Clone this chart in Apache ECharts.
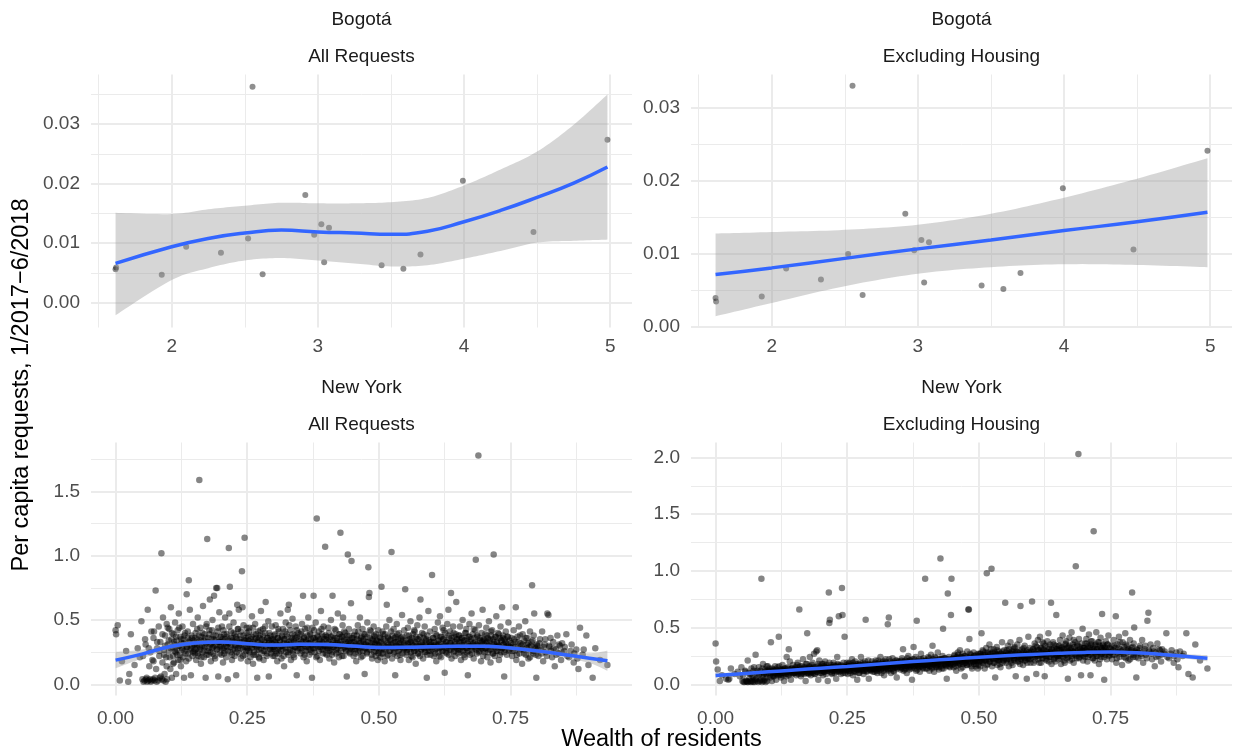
<!DOCTYPE html>
<html><head><meta charset="utf-8">
<script src="https://cdn.jsdelivr.net/npm/echarts@6/dist/echarts.min.js"></script>
<style>html,body{margin:0;padding:0;background:#fff}#c{width:1233px;height:754px}</style>
</head><body><div id="c"></div>
<script>
// ---------- Bogotá (localities) ----------
const bogWealth = [1.616,1.620,1.932,2.099,2.337,2.523,2.553,2.622,2.914,2.975,3.024,3.043,3.076,3.436,3.585,3.702,3.992,4.475,4.981];
const bogAll    = [0.0056,0.0059,0.0047,0.0094,0.0084,0.0108,0.0363,0.0048,0.0181,0.0114,0.0132,0.0068,0.0126,0.0063,0.0057,0.0081,0.0205,0.0119,0.0274];
const bogExcl   = [0.0040,0.0035,0.0042,0.0080,0.0065,0.0100,0.0330,0.0044,0.0155,0.0105,0.0119,0.0061,0.0116,0.0057,0.0052,0.0074,0.0190,0.0106,0.0241];

// loess fit + 95% band (Bogotá, all requests)
const bogAllSmX  = [1.616,2,2.25,2.5,2.75,3,3.25,3.5,3.75,4,4.25,4.5,4.75,4.981];
const bogAllFit  = [0.0066,0.0094,0.0108,0.0117,0.0122,0.0119,0.0117,0.0115,0.0120,0.0136,0.0155,0.0177,0.0201,0.0228];
const bogAllLo   = [-0.0021,0.0038,0.0058,0.0071,0.0075,0.0071,0.0066,0.0061,0.0063,0.0074,0.0087,0.0101,0.0104,0.0106];
const bogAllHi   = [0.0151,0.0149,0.0157,0.0163,0.0168,0.0167,0.0167,0.0169,0.0176,0.0197,0.0224,0.0254,0.0299,0.0350];
// linear fit + band (Bogotá, excluding housing)
const bogExclSmX = [1.616,2,2.5,3,3.5,4,4.5,4.981];
const bogExclFit = [0.0072,0.0081,0.0094,0.0107,0.0119,0.0132,0.0144,0.0157];
const bogExclLo  = [0.0015,0.0033,0.0056,0.0073,0.0082,0.0086,0.0085,0.0082];
const bogExclHi  = [0.0128,0.0130,0.0133,0.0140,0.0155,0.0177,0.0203,0.0231];

// ---------- New York (census tracts): [wealth, all requests, excluding housing] ----------
const nyTracts = [
[.000,.42,.36],[.001,.39,.20],[.004,.46,.13],[.008,.03,.03],[.012,.18,.08],[.020,.26,.05],[.024,.02,.04],[.026,.08,.05],[.029,.39,.14],[.036,.15,.09],[.042,.28,.11],[.046,.21,.07],[.049,.49,.15],
[.051,.04,.03],[.053,.02,.02],[.055,.03,.02],[.057,.31,.11],[.058,.04,.03],[.060,.02,.02],[.061,.58,.21],[.062,.03,.02],[.064,.14,.05],[.065,.04,.03],[.066,.25,.09],[.067,.02,.02],[.069,.03,.03],[.070,.19,.07],[.071,.04,.02],[.072,.36,.12],[.073,.41,.15],[.074,.03,.02],[.076,.73,.26],[.077,.12,.05],[.078,.02,.03],[.079,.28,.10],[.081,.03,.02],[.082,.45,.15],[.083,.22,.08],[.084,.05,.03],[.085,.33,.12],[.087,1.02,.93],[.088,.04,.02],[.089,.17,.07],[.090,.52,.18],[.091,.03,.03],[.092,.27,.10],[.093,.08,.04],[.094,.38,.13],[.095,.02,.02],[.096,.21,.09],[.097,.47,.16],[.098,.04,.03],[.099,.31,.12],
[.101,.26,.10],[.102,.43,.14],[.104,.12,.06],[.105,.60,.37],[.106,.35,.12],[.107,.05,.03],[.108,.29,.11],[.109,.22,.08],[.110,.39,.13],[.111,.17,.07],[.112,.31,.10],[.113,.48,.16],[.114,.25,.09],[.115,.08,.04],[.116,.34,.12],[.117,.27,.10],[.118,.42,.15],[.119,.19,.08],[.120,.55,.42],[.121,.30,.11],[.122,.23,.09],[.123,.37,.13],[.124,.14,.06],[.125,.32,.12],[.126,.28,.10],[.127,.45,.17],[.128,.21,.08],[.129,.35,.13],[.130,.05,.03],[.131,.26,.10],[.132,.40,.14],[.133,.31,.12],[.134,.18,.07],[.135,.70,.24],[.136,.29,.11],[.137,.36,.14],[.138,.24,.09],[.139,.81,.31],[.140,.33,.12],[.141,.58,.20],[.142,.27,.10],[.143,.07,.04],[.144,.38,.14],[.145,.30,.11],[.146,.22,.09],[.147,.47,.17],[.148,.34,.13],[.149,.26,.10],
[.150,.31,.12],[.151,.24,.10],[.152,.40,.15],[.153,.19,.08],[.154,.35,.13],[.155,.28,.11],[.156,.52,.19],[.157,.22,.09],[.158,.33,.12],[.159,1.59,.66],[.160,.27,.11],[.161,.44,.16],[.162,.16,.07],[.163,.37,.14],[.164,.30,.12],[.165,.25,.10],[.166,.61,.22],[.167,.34,.13],[.168,.21,.09],[.169,.39,.15],[.170,.29,.11],[.171,.05,.03],[.172,.32,.12],[.173,.47,.18],[.174,1.13,.45],[.175,.26,.10],[.176,.36,.14],[.177,.23,.09],[.178,.42,.16],[.179,.66,.24],[.180,.31,.12],[.181,.18,.08],[.182,.35,.14],[.183,.28,.11],[.184,.50,.19],[.185,.24,.10],[.186,.38,.15],[.187,.69,.27],[.188,.30,.12],[.189,.20,.09],[.190,.34,.13],[.191,.75,.29],[.192,.27,.11],[.193,.75,.30],[.194,.41,.16],[.195,.06,.04],[.196,.33,.13],[.197,.56,.21],[.198,.29,.12],[.199,.37,.15],
[.200,.30,.13],[.201,.23,.10],[.202,.45,.18],[.203,.35,.14],[.204,.17,.08],[.205,.28,.12],[.206,.39,.16],[.207,.26,.11],[.208,.52,.20],[.209,.32,.14],[.210,.21,.09],[.211,.37,.15],[.212,.29,.12],[.213,.04,.03],[.214,.34,.14],[.215,1.06,.81],[.216,.55,.54],[.217,.76,.57],[.218,.25,.11],[.219,.41,.17],[.220,.31,.13],[.221,.19,.09],[.222,.36,.15],[.223,.27,.12],[.224,.48,.19],[.225,.33,.14],[.226,.22,.10],[.227,.39,.16],[.228,.30,.13],[.229,.07,.05],[.230,.35,.15],[.231,.62,.24],[.232,.28,.12],[.233,.43,.17],[.234,.58,.60],[.235,.24,.11],[.236,.33,.14],[.237,.38,.16],[.238,.20,.09],[.239,.31,.13],[.240,.88,.85],[.241,.60,.61],[.242,.27,.12],[.243,.46,.19],[.244,.34,.14],[.245,1.14,.42],[.246,.23,.10],[.247,.36,.15],[.248,.29,.13],[.249,.40,.17],
[.250,.32,.15],[.251,.18,.09],[.252,.37,.16],[.253,.26,.12],[.254,.44,.19],[.255,.30,.14],[.256,.21,.10],[.257,.35,.16],[.258,.28,.13],[.259,.53,.22],[.260,.33,.15],[.261,.16,.08],[.262,.39,.17],[.263,.25,.12],[.264,.31,.14],[.265,.47,.20],[.266,.23,.11],[.267,.36,.16],[.268,.29,.13],[.269,.05,.04],[.270,.34,.15],[.271,.41,.18],[.272,.27,.13],[.273,.20,.10],[.274,.38,.17],[.275,.31,.14],[.276,.57,.24],[.277,.24,.12],[.278,.35,.16],[.279,.30,.14],[.280,.43,.19],[.281,.19,.09],[.282,.33,.15],[.283,.26,.12],[.284,.40,.18],[.285,.64,.57],[.286,.29,.14],[.287,.22,.11],[.288,.36,.16],[.289,.31,.15],[.290,.49,.21],[.291,.06,.05],[.292,.34,.16],[.293,.28,.13],[.294,.38,.17],[.295,.24,.12],[.296,.32,.15],[.297,.45,.20],[.298,.27,.13],[.299,.35,.16],
[.300,.29,.14],[.301,.38,.18],[.302,.22,.11],[.303,.33,.16],[.304,.46,.21],[.305,.26,.13],[.306,.31,.15],[.307,.18,.10],[.308,.36,.17],[.309,.28,.14],[.310,.41,.19],[.311,.24,.12],[.312,.34,.16],[.313,.55,.24],[.314,.30,.15],[.315,.20,.10],[.316,.37,.18],[.317,.27,.14],[.318,.43,.20],[.319,.32,.16],[.320,.14,.08],[.321,.35,.17],[.322,.29,.15],[.323,.48,.22],[.324,.25,.13],[.325,.39,.19],[.326,.31,.16],[.327,.58,.53],[.328,.23,.12],[.329,.62,.59],[.330,.33,.17],[.331,.27,.14],[.332,.42,.20],[.333,.19,.10],[.334,.36,.18],[.335,.30,.16],[.336,.51,.23],[.337,.26,.14],[.338,.34,.17],[.339,.21,.11],[.340,.38,.19],[.341,.29,.15],[.342,.45,.21],[.343,.32,.17],[.344,.07,.06],[.345,.37,.19],[.346,.28,.15],[.347,.40,.20],
[.350,.31,.17],[.351,.24,.13],[.352,.39,.20],[.353,.28,.15],[.354,.47,.23],[.355,.33,.18],[.356,.69,.31],[.357,.21,.12],[.358,.36,.19],[.359,.30,.16],[.360,.43,.21],[.361,.26,.14],[.362,.34,.18],[.363,.18,.10],[.364,.38,.20],[.365,.29,.16],[.366,.52,.25],[.367,.32,.17],[.368,.23,.13],[.369,.40,.21],[.370,.27,.15],[.371,.35,.19],[.372,.31,.17],[.373,.05,.04],[.374,.44,.22],[.375,.28,.16],[.376,.69,.33],[.377,.36,.19],[.378,.25,.14],[.379,.33,.18],[.380,.48,.24],[.381,.30,.17],[.382,1.29,.56],[.383,.22,.13],[.384,.37,.20],[.385,.29,.16],[.386,.41,.22],[.387,.34,.19],[.388,.19,.11],[.389,.31,.18],[.390,.57,.27],[.391,.27,.16],[.392,.39,.21],[.393,.32,.18],[.394,.24,.14],[.395,.45,.23],[.396,.35,.19],[.397,.29,.17],[.398,1.07,.93],[.399,.38,.21],
[.400,.30,.18],[.401,.23,.14],[.402,.37,.21],[.403,.28,.17],[.404,.44,.24],[.405,.33,.19],[.406,.20,.12],[.407,.35,.20],[.408,.27,.16],[.409,.50,.26],[.410,.31,.19],[.411,.25,.15],[.412,.69,.34],[.413,.38,.22],[.414,.29,.18],[.415,.17,.11],[.416,.36,.21],[.417,.32,.19],[.418,.42,.23],[.419,.24,.15],[.420,.34,.20],[.421,.28,.17],[.422,.55,.28],[.423,.30,.18],[.424,.21,.13],[.425,.39,.22],[.426,.33,.20],[.427,1.18,1.11],[.428,.26,.16],[.429,.37,.22],[.430,.31,.19],[.431,.46,.25],[.432,.52,.49],[.433,.22,.14],[.434,.35,.21],[.435,.29,.18],[.436,.40,.23],[.437,.27,.17],[.438,.33,.20],[.439,.06,.05],[.440,.38,.22],[.441,1.01,.80],[.442,.30,.19],[.443,.43,.24],[.444,.25,.16],[.445,.34,.21],[.446,.28,.18],[.447,.63,.61],[.448,.96,.93],[.449,.36,.22],
[.450,.29,.20],[.451,.36,.23],[.452,.22,.15],[.453,.33,.22],[.454,.41,.26],[.455,.27,.19],[.456,.31,.21],[.457,.18,.12],[.458,.38,.24],[.459,.30,.20],[.460,.46,.28],[.461,.25,.17],[.462,.34,.23],[.463,.28,.19],[.464,.52,.30],[.465,.32,.22],[.466,.21,.14],[.467,.37,.24],[.468,.29,.20],[.469,.43,.27],[.470,.26,.18],[.471,.35,.23],[.472,.31,.21],[.473,.08,.07],[.474,.39,.25],[.475,.28,.19],[.476,.33,.22],[.477,.24,.17],[.478,.48,.29],[.479,.30,.21],[.480,.91,.66],[.481,.68,.66],[.482,.71,.40],[.483,.36,.24],[.484,.27,.19],[.485,.41,.26],[.486,.32,.22],[.487,.20,.14],[.488,.34,.23],[.489,.29,.20],[.490,.45,.28],[.491,.25,.18],[.492,.37,.25],[.493,.31,.21],[.494,.22,.16],[.495,.39,.26],[.496,.28,.20],[.497,.34,.23],[.498,.19,.14],[.499,.42,.27],
[.500,.30,.23],[.501,.26,.20],[.502,.37,.27],[.503,.21,.16],[.504,.33,.25],[.505,.76,.45],[.506,.28,.21],[.507,.41,.30],[.508,.24,.19],[.509,.35,.26],[.510,.30,.23],[.511,.18,.14],[.512,.39,.28],[.513,.27,.21],[.514,.45,.32],[.515,.62,.98],[.516,.32,.24],[.517,.23,.18],[.518,.36,.27],[.519,.29,.22],[.520,.50,.35],[.521,.26,.20],[.522,.34,.26],[.523,.31,.24],[.524,1.03,1.02],[.525,.20,.16],[.526,.38,.28],[.527,.28,.22],[.528,.43,.31],[.529,.25,.19],[.530,.33,.25],[.531,.07,.06],[.532,.37,.27],[.533,.30,.23],[.534,.47,.33],[.535,.22,.17],[.536,.35,.26],[.537,.29,.22],[.538,.40,.29],[.539,.27,.21],[.540,.32,.24],[.541,.19,.15],[.542,.36,.27],[.543,.31,.24],[.544,.54,.37],[.545,.24,.19],[.546,.34,.26],[.547,.28,.22],[.548,.42,.30],[.550,.74,.72],
[.551,.30,.25],[.552,.23,.19],[.553,.38,.30],[.554,.27,.22],[.555,.44,.34],[.556,.32,.26],[.557,.19,.16],[.558,.35,.28],[.559,.29,.24],[.560,.49,.37],[.561,.25,.21],[.562,.34,.27],[.563,.31,.25],[.564,.21,.17],[.565,.39,.31],[.566,.28,.23],[.567,.42,.32],[.568,.26,.21],[.569,.33,.27],[.570,.16,.07],[.571,.37,.29],[.572,.30,.25],[.573,.46,.35],[.574,.24,.20],[.575,.35,.28],[.576,.29,.24],[.577,.52,.39],[.578,.22,.18],[.579,.66,.69],[.580,.32,.26],[.581,.27,.22],[.582,.40,.31],[.583,.31,.25],[.584,.20,.17],[.585,.36,.29],[.586,.28,.23],[.587,.45,.34],[.588,.25,.21],[.589,.34,.27],[.590,.30,.25],[.591,.05,.05],[.592,.38,.30],[.593,.29,.24],[.594,.57,.42],[.595,.26,.22],[.596,.33,.27],[.597,.41,.32],[.598,.23,.19],[.599,.31,.26],[.601,.85,.73],
[.602,.29,.26],[.603,.36,.31],[.604,.22,.19],[.605,.33,.29],[.606,.43,.36],[.607,.27,.24],[.608,.31,.27],[.609,.18,.09],[.610,.38,.33],[.611,.30,.26],[.612,.48,.39],[.613,.25,.22],[.614,.34,.30],[.615,.28,.25],[.616,.53,.42],[.617,.32,.28],[.618,.21,.19],[.619,.37,.32],[.620,.29,.26],[.621,.44,.37],[.622,.26,.23],[.623,.35,.30],[.624,.31,.27],[.625,.09,.07],[.626,.40,.34],[.627,.28,.25],[.628,.33,.29],[.629,.24,.21],[.630,.47,.38],[.631,.30,.27],[.632,.58,.45],[.633,.36,.31],[.634,.27,.24],[.635,.41,.35],[.636,.32,.28],[.637,.71,.72],[.638,.20,.18],[.639,.34,.30],[.640,.29,.26],[.641,.45,.37],[.642,.25,.22],[.643,.37,.32],[.644,.31,.28],[.645,.22,.20],[.646,.39,.34],[.647,.64,.61],[.648,.28,.25],[.649,.35,.31],
[.650,.30,.27],[.651,.24,.22],[.652,.38,.34],[.653,.27,.25],[.654,.45,.39],[.655,.33,.30],[.656,.19,.18],[.657,.36,.32],[.658,.29,.27],[.659,.50,.43],[.660,.26,.24],[.661,.34,.31],[.662,.31,.28],[.663,.21,.19],[.664,.40,.35],[.665,.28,.26],[.666,.43,.38],[.667,.25,.23],[.668,.35,.32],[.669,.07,.05],[.670,.37,.33],[.671,.30,.28],[.672,.47,.41],[.673,.23,.21],[.674,.33,.30],[.675,.29,.27],[.676,.55,.46],[.677,.27,.25],[.678,.39,.35],[.679,.32,.29],[.680,.20,.19],[.681,.36,.33],[.682,.28,.26],[.683,.42,.37],[.684,.97,1.04],[.685,.31,.29],[.686,.24,.23],[.687,.37,.34],[.688,.30,.28],[.689,1.78,2.03],[.690,.46,.40],[.691,.26,.24],[.692,.34,.31],[.693,.29,.27],[.694,.18,.08],[.695,.40,.36],[.696,.33,.30],[.697,.58,.49],[.698,.27,.25],[.699,.35,.32],
[.700,.31,.29],[.701,.25,.24],[.702,.39,.36],[.703,.28,.27],[.704,.44,.40],[.705,.33,.31],[.706,.21,.20],[.707,.36,.34],[.708,.30,.28],[.709,.49,.44],[.710,.27,.26],[.711,.34,.32],[.712,.17,.08],[.713,.38,.35],[.714,.29,.28],[.715,.42,.38],[.716,.24,.23],[.717,.35,.33],[.718,1.01,1.35],[.719,.31,.29],[.720,.22,.21],[.721,.37,.34],[.722,.28,.27],[.723,.53,.46],[.724,.33,.31],[.725,.26,.25],[.726,.40,.37],[.727,.30,.29],[.728,.19,.18],[.729,.36,.34],[.730,.29,.28],[.731,.45,.41],[.732,.25,.24],[.733,.34,.32],[.734,.60,.62],[.735,.28,.27],[.736,.38,.35],[.737,.31,.30],[.738,.06,.04],[.739,.35,.33],[.740,.27,.26],[.741,.41,.38],[.742,.32,.30],[.743,.23,.22],[.744,.37,.35],[.745,.30,.29],[.746,.48,.43],[.747,.26,.25],[.748,.34,.32],[.749,.29,.28],
[.750,.29,.28],[.752,.36,.34],[.753,.22,.22],[.755,.31,.30],[.756,.42,.39],[.758,.26,.26],[.759,.33,.32],[.760,.60,.60],[.761,.19,.19],[.763,.37,.35],[.764,.28,.28],[.766,.45,.42],[.767,.24,.24],[.769,.32,.31],[.770,.30,.29],[.772,.16,.17],[.773,.39,.37],[.775,.27,.27],[.776,.34,.33],[.778,.49,.45],[.779,.23,.23],[.781,.31,.30],[.782,.36,.34],[.784,.20,.21],[.785,.29,.29],[.787,.41,.39],[.788,.26,.26],[.790,.33,.32],[.791,.77,.81],[.793,.24,.24],[.794,.38,.36],[.795,.55,.50],[.797,.28,.28],[.799,.05,.06],
[.801,.30,.30],[.803,.22,.23],[.806,.35,.34],[.808,.27,.27],[.810,.41,.39],[.812,.18,.19],[.815,.31,.31],[.817,.25,.26],[.820,.55,.56],[.822,.54,.63],[.824,.29,.29],[.826,.36,.35],[.829,.21,.22],[.831,.33,.32],[.834,.14,.16],[.836,.27,.28],[.839,.38,.36],[.841,.24,.25],[.844,.30,.30],[.846,.19,.20],[.848,.32,.31],
[.852,.26,.27],[.856,.39,.45],[.861,.21,.23],[.866,.31,.30],[.870,.17,.19],[.875,.27,.28],[.879,.12,.15],[.882,.44,.29],[.887,.23,.25],[.894,.38,.45],[.898,.15,.09],
[.906,.05,.06],[.911,.28,.35],[.920,.19,.21],[.934,.15,.14]
];
// further tracts in the dense core of the cloud
const nyTractsCore = [
[.052,.22,.08],[.056,.35,.12],[.059,.05,.03],[.063,.28,.10],[.068,.41,.14],[.072,.18,.07],[.075,.05,.04],[.079,.33,.12],[.083,.26,.09],[.086,.06,.04],[.089,.39,.14],[.092,.23,.09],[.094,.30,.11],[.097,.14,.06],[.099,.44,.16],
[.101,.34,.12],[.103,.21,.08],[.105,.28,.10],[.107,.40,.14],[.109,.16,.07],[.111,.33,.12],[.113,.26,.10],[.115,.37,.13],[.117,.23,.09],[.119,.30,.11],[.121,.44,.16],[.123,.19,.08],[.125,.35,.13],[.127,.27,.10],[.129,.32,.12],[.131,.38,.14],[.133,.24,.09],[.135,.29,.11],[.137,.41,.15],[.139,.20,.08],[.141,.34,.13],[.143,.28,.11],[.145,.36,.14],[.147,.25,.10],[.149,.31,.12],
[.151,.36,.14],[.152,.27,.11],[.154,.31,.12],[.155,.43,.17],[.157,.24,.10],[.158,.38,.15],[.160,.29,.12],[.162,.34,.13],[.163,.21,.09],[.165,.40,.16],[.167,.30,.12],[.168,.26,.11],[.170,.36,.14],[.172,.45,.18],[.173,.23,.10],[.175,.33,.13],[.177,.28,.11],[.178,.39,.15],[.180,.25,.10],[.182,.32,.13],[.183,.42,.17],[.185,.29,.12],[.187,.35,.14],[.188,.22,.09],[.190,.38,.15],[.192,.31,.13],[.193,.27,.11],[.195,.44,.18],[.197,.33,.14],[.198,.24,.10],
[.200,.37,.16],[.202,.28,.12],[.203,.33,.14],[.205,.42,.18],[.206,.24,.11],[.208,.35,.15],[.210,.30,.13],[.211,.39,.17],[.213,.26,.12],[.214,.32,.14],[.216,.45,.19],[.218,.29,.13],[.219,.36,.15],[.221,.23,.10],[.222,.34,.15],[.224,.40,.17],[.226,.27,.12],[.227,.31,.14],[.229,.37,.16],[.230,.25,.11],[.232,.43,.18],[.234,.30,.13],[.235,.35,.15],[.237,.28,.12],[.238,.41,.17],[.240,.33,.14],[.242,.22,.10],[.243,.38,.16],[.245,.29,.13],[.246,.34,.15],[.248,.26,.12],[.249,.44,.19],
[.250,.28,.13],[.252,.34,.16],[.253,.41,.18],[.255,.25,.12],[.256,.32,.15],[.258,.37,.17],[.259,.29,.14],[.261,.44,.19],[.262,.23,.11],[.264,.35,.16],[.266,.30,.14],[.267,.39,.18],[.269,.27,.13],[.270,.33,.15],[.272,.21,.10],[.273,.36,.17],[.275,.42,.19],[.276,.28,.13],[.278,.31,.15],[.280,.38,.17],[.281,.26,.12],[.283,.34,.16],[.284,.45,.20],[.286,.30,.14],[.288,.24,.12],[.289,.36,.17],[.291,.32,.15],[.292,.40,.18],[.294,.27,.13],[.296,.35,.16],[.297,.29,.14],[.299,.22,.11],
[.300,.34,.17],[.302,.27,.14],[.303,.39,.19],[.305,.31,.16],[.306,.24,.12],[.308,.36,.18],[.309,.43,.21],[.311,.29,.15],[.312,.33,.17],[.314,.26,.13],[.316,.38,.19],[.317,.30,.15],[.319,.22,.12],[.320,.35,.18],[.322,.41,.20],[.323,.28,.14],[.325,.32,.16],[.327,.37,.18],[.328,.25,.13],[.330,.46,.22],[.331,.31,.16],[.333,.34,.17],[.334,.27,.14],[.336,.39,.19],[.338,.23,.12],[.339,.33,.17],[.341,.29,.15],[.342,.36,.18],[.344,.42,.21],[.345,.26,.14],[.347,.31,.16],[.349,.35,.18],
[.350,.28,.15],[.352,.34,.18],[.353,.41,.21],[.355,.26,.14],[.356,.31,.17],[.358,.37,.20],[.359,.23,.13],[.361,.33,.18],[.362,.29,.16],[.364,.44,.23],[.366,.35,.19],[.367,.27,.15],[.369,.32,.17],[.370,.39,.21],[.372,.25,.14],[.373,.30,.17],[.375,.36,.19],[.377,.42,.22],[.378,.28,.16],[.380,.34,.18],[.381,.21,.12],[.383,.38,.20],[.384,.31,.17],[.386,.26,.15],[.388,.35,.19],[.389,.29,.16],[.391,.43,.22],[.392,.33,.18],[.394,.27,.15],[.395,.37,.20],[.397,.30,.17],[.399,.24,.14],
[.400,.35,.20],[.402,.28,.17],[.403,.32,.19],[.405,.40,.23],[.406,.26,.16],[.408,.30,.18],[.409,.37,.21],[.411,.23,.14],[.413,.34,.20],[.414,.29,.17],[.416,.43,.24],[.417,.31,.19],[.419,.27,.16],[.420,.36,.21],[.422,.32,.19],[.423,.25,.15],[.425,.39,.22],[.427,.30,.18],[.428,.34,.20],[.430,.22,.14],[.431,.37,.22],[.433,.28,.17],[.434,.41,.23],[.436,.31,.19],[.438,.26,.16],[.439,.35,.21],[.441,.29,.18],[.442,.33,.20],[.444,.38,.22],[.445,.24,.15],[.447,.32,.19],[.449,.27,.17],
[.450,.33,.22],[.452,.27,.18],[.453,.38,.25],[.455,.30,.20],[.456,.24,.16],[.458,.35,.23],[.459,.29,.19],[.461,.41,.26],[.463,.32,.21],[.464,.26,.18],[.466,.36,.24],[.467,.30,.20],[.469,.22,.15],[.470,.34,.22],[.472,.39,.25],[.473,.28,.19],[.475,.31,.21],[.477,.25,.17],[.478,.37,.24],[.480,.33,.22],[.481,.27,.18],[.483,.42,.27],[.484,.30,.20],[.486,.23,.16],[.488,.35,.23],[.489,.29,.20],[.491,.38,.25],[.492,.32,.21],[.494,.26,.18],[.495,.34,.23],[.497,.31,.21],[.499,.24,.17],
[.500,.33,.25],[.502,.28,.21],[.503,.36,.27],[.505,.24,.19],[.507,.31,.24],[.508,.39,.29],[.510,.27,.21],[.512,.34,.26],[.513,.29,.22],[.515,.22,.17],[.517,.37,.28],[.518,.31,.24],[.520,.26,.20],[.522,.35,.27],[.523,.41,.31],[.525,.29,.23],[.527,.32,.25],[.528,.24,.19],[.530,.36,.28],[.532,.28,.22],[.533,.33,.26],[.535,.39,.30],[.537,.26,.21],[.538,.31,.24],[.540,.23,.18],[.542,.35,.27],[.543,.29,.23],[.545,.37,.29],[.547,.27,.21],[.548,.32,.25],
[.550,.28,.23],[.552,.34,.28],[.553,.25,.21],[.555,.31,.26],[.557,.38,.31],[.558,.27,.22],[.560,.33,.27],[.562,.22,.19],[.563,.36,.29],[.565,.30,.25],[.567,.26,.22],[.568,.41,.33],[.570,.32,.26],[.572,.28,.23],[.573,.35,.28],[.575,.24,.20],[.577,.30,.25],[.578,.37,.30],[.580,.27,.22],[.582,.33,.27],[.583,.29,.24],[.585,.39,.32],[.587,.25,.21],[.588,.31,.26],[.590,.35,.29],[.592,.23,.19],[.593,.28,.23],[.595,.34,.28],[.597,.30,.25],[.598,.26,.22],
[.600,.33,.29],[.602,.27,.24],[.603,.36,.31],[.605,.30,.26],[.607,.24,.21],[.608,.39,.34],[.610,.28,.25],[.612,.34,.30],[.613,.31,.27],[.615,.22,.19],[.617,.37,.32],[.618,.29,.26],[.620,.26,.23],[.622,.35,.31],[.623,.42,.36],[.625,.30,.27],[.627,.25,.22],[.628,.33,.29],[.630,.28,.25],[.632,.38,.33],[.633,.23,.20],[.635,.32,.28],[.637,.27,.24],[.638,.36,.31],[.640,.30,.27],[.642,.40,.35],[.643,.26,.23],[.645,.33,.29],[.647,.29,.26],[.648,.35,.31],
[.650,.27,.25],[.652,.33,.30],[.653,.38,.34],[.655,.25,.23],[.657,.31,.28],[.658,.36,.33],[.660,.29,.27],[.662,.23,.21],[.663,.34,.31],[.665,.40,.36],[.667,.28,.26],[.668,.32,.29],[.670,.26,.24],[.672,.37,.34],[.673,.30,.28],[.675,.35,.32],[.677,.24,.22],[.678,.31,.29],[.680,.43,.39],[.682,.29,.27],[.683,.33,.30],[.685,.27,.25],[.687,.38,.35],[.688,.32,.30],[.690,.25,.23],[.692,.36,.33],[.693,.30,.28],[.695,.28,.26],[.697,.34,.32],[.698,.22,.21],
[.700,.34,.32],[.702,.28,.27],[.703,.32,.30],[.705,.38,.36],[.707,.25,.24],[.708,.30,.29],[.710,.35,.33],[.712,.27,.26],[.713,.41,.38],[.715,.31,.30],[.717,.24,.23],[.718,.33,.31],[.720,.29,.28],[.722,.37,.35],[.723,.26,.25],[.725,.32,.31],[.727,.30,.29],[.728,.39,.37],[.730,.23,.22],[.732,.34,.32],[.733,.28,.27],[.735,.36,.34],[.737,.31,.30],[.738,.25,.24],[.740,.33,.32],[.742,.29,.28],[.745,.37,.35],[.748,.27,.26],
[.751,.32,.31],[.754,.26,.26],[.757,.35,.34],[.759,.29,.29],[.762,.23,.23],[.765,.33,.32],[.768,.38,.37],[.770,.27,.27],[.773,.31,.30],[.776,.24,.24],[.779,.36,.35],[.781,.28,.28],[.784,.32,.31],[.787,.21,.22],[.789,.30,.30],[.792,.34,.33],[.794,.26,.26],[.796,.29,.29],[.798,.23,.24],[.800,.31,.31],
[.802,.27,.28],[.805,.32,.32],[.809,.24,.25],[.813,.29,.29],[.816,.35,.34],[.819,.22,.23],[.823,.30,.30],[.827,.26,.27],[.832,.28,.29],[.837,.23,.24],[.842,.31,.31],[.847,.25,.26],
[.853,.29,.29],[.858,.22,.24],[.864,.26,.27],[.871,.24,.25],[.877,.20,.22],[.889,.27,.27]
];

// loess fits + bands (New York)
const nyAllSmX  = [0,.05,.1,.15,.2,.25,.3,.35,.4,.45,.5,.55,.6,.65,.7,.75,.8,.85,.9,.934];
const nyAllFit  = [.188,.235,.290,.322,.330,.316,.305,.312,.310,.298,.287,.288,.292,.296,.296,.283,.260,.232,.203,.183];
const nyAllLo   = [.125,.200,.268,.305,.315,.302,.292,.299,.297,.285,.274,.275,.279,.283,.282,.268,.243,.210,.165,.105];
const nyAllHi   = [.252,.270,.312,.339,.345,.330,.318,.325,.323,.311,.300,.301,.305,.309,.310,.298,.277,.254,.241,.262];
const nyExclSmX = [0,.05,.1,.15,.2,.25,.3,.35,.4,.45,.5,.55,.6,.65,.7,.75,.8,.85,.9,.934];
const nyExclFit = [.078,.094,.110,.126,.142,.158,.175,.192,.208,.224,.239,.252,.263,.273,.281,.284,.278,.262,.243,.230];
const nyExclLo  = [.058,.080,.099,.117,.134,.150,.167,.184,.200,.216,.231,.244,.255,.265,.272,.274,.266,.247,.222,.203];
const nyExclHi  = [.098,.108,.121,.135,.150,.166,.183,.200,.216,.232,.247,.260,.271,.281,.290,.294,.290,.277,.264,.257];

// ---------- build chart ----------
const FONT = "'Liberation Sans', Arial, Helvetica, sans-serif";
const grids = [
  {left: 91,  top: 74.5, width: 541, height: 253},
  {left: 691, top: 74.5, width: 541, height: 253},
  {left: 91,  top: 442.5, width: 541, height: 253},
  {left: 691, top: 442.5, width: 541, height: 253}
].map(g => Object.assign({containLabel: false, outerBoundsMode: 'none', show: false}, g));

function axis(i, min, max, step, fmt, margin) {
  return {
    type: 'value', gridIndex: i, min: min, max: max,
    minInterval: step, maxInterval: step,
    axisLine: {show: false}, axisTick: {show: false},
    axisLabel: {show: true, showMinLabel: false, showMaxLabel: false, margin: margin,
      color: '#4D4D4D', fontSize: 19, fontFamily: FONT, formatter: fmt},
    splitLine: {show: true, showMinLine: false, showMaxLine: false, lineStyle: {color: '#EBEBEB', width: 2}},
    minorTick: {show: false, splitNumber: 2},
    minorSplitLine: {show: true, lineStyle: {color: '#EBEBEB', width: 1}},
    silent: true
  };
}
const f2 = v => v.toFixed(2), f1 = v => v.toFixed(1), f0 = v => String(Math.round(v));
const xAxes = [
  axis(0, 1.448, 5.149, 1, f0, 10),
  axis(1, 1.448, 5.149, 1, f0, 10),
  axis(2, -0.0467, 0.9807, 0.25, f2, 14),
  axis(3, -0.0467, 0.9807, 0.25, f2, 14)
];
const yAxes = [
  axis(0, -0.00417, 0.03835, 0.01, f2, 11),
  axis(1, -0.00005, 0.03454, 0.01, f2, 11),
  axis(2, -0.0872, 1.8817, 0.5, f1, 11),
  axis(3, -0.0988, 2.1323, 0.5, f1, 11)
];

// Catmull-Rom smoothing in pixel space (rendering of the band outline only)
function smoothPts(p, n) {
  const out = [];
  for (let i = 0; i < p.length - 1; i++) {
    const p0 = p[i - 1] || p[i], p1 = p[i], p2 = p[i + 1], p3 = p[i + 2] || p[i + 1];
    for (let k = 0; k < n; k++) {
      const t = k / n, t2 = t * t, t3 = t2 * t;
      const f = d => 0.5 * (2 * p1[d] + (-p0[d] + p2[d]) * t + (2 * p0[d] - 5 * p1[d] + 4 * p2[d] - p3[d]) * t2 + (-p0[d] + 3 * p1[d] - 3 * p2[d] + p3[d]) * t3);
      out.push([f(0), f(1)]);
    }
  }
  out.push(p[p.length - 1]);
  return out;
}

function panel(i, pts, sx, fit, lo, hi, size, alpha) {
  return [
    {type: 'scatter', xAxisIndex: i, yAxisIndex: i, data: pts, symbolSize: size,
      itemStyle: {color: 'rgba(0,0,0,' + alpha + ')', borderWidth: 0}, silent: true, z: 2, large: false, progressive: 0},
    {type: 'custom', xAxisIndex: i, yAxisIndex: i, data: [[sx[0], fit[0]]], silent: true, z: 3,
      renderItem: function (params, api) {
        const up = sx.map((x, j) => api.coord([x, hi[j]]));
        const dn = sx.map((x, j) => api.coord([x, lo[j]]));
        const poly = smoothPts(up, 12).concat(smoothPts(dn, 12).reverse());
        return {type: 'polygon', shape: {points: poly}, style: {fill: 'rgba(153,153,153,0.4)', stroke: null}};
      }},
    {type: 'line', xAxisIndex: i, yAxisIndex: i, data: sx.map((x, j) => [x, fit[j]]),
      smooth: 0.5, symbol: 'none', showSymbol: false,
      lineStyle: {color: '#3366FF', width: 3.5}, silent: true, z: 4}
  ];
}

const nyRows = nyTracts.concat(nyTractsCore);
const series = [].concat(
  panel(0, bogWealth.map((x, j) => [x, bogAll[j]]), bogAllSmX, bogAllFit, bogAllLo, bogAllHi, 6, 0.55),
  panel(1, bogWealth.map((x, j) => [x, bogExcl[j]]), bogExclSmX, bogExclFit, bogExclLo, bogExclHi, 6, 0.55),
  panel(2, nyRows.map(r => [r[0], r[1]]), nyAllSmX, nyAllFit, nyAllLo, nyAllHi, 6.5, 0.6),
  panel(3, nyRows.map(r => [r[0], r[2]]), nyExclSmX, nyExclFit, nyExclLo, nyExclHi, 6.5, 0.6)
);

function label(text, x, y, size, color, rot) {
  return {type: 'text', x: x, y: y, rotation: rot || 0, silent: true,
    style: {text: text, fontSize: size, fontFamily: FONT, fill: color,
      textAlign: 'center', textVerticalAlign: 'middle'}};
}
const graphic = [
  label('Bogotá', 361.5, 20, 19, '#1A1A1A'),
  label('All Requests', 361.5, 57, 19, '#1A1A1A'),
  label('Bogotá', 961.5, 20, 19, '#1A1A1A'),
  label('Excluding Housing', 961.5, 57, 19, '#1A1A1A'),
  label('New York', 361.5, 388, 19, '#1A1A1A'),
  label('All Requests', 361.5, 425, 19, '#1A1A1A'),
  label('New York', 961.5, 388, 19, '#1A1A1A'),
  label('Excluding Housing', 961.5, 425, 19, '#1A1A1A'),
  label('Wealth of residents', 661.5, 740, 23.5, '#000000'),
  label('Per capita requests, 1/2017\u22126/2018', 22, 385, 23.5, '#000000', Math.PI / 2)
];

const chart = echarts.init(document.getElementById('c'), null, {renderer: 'canvas'});
chart.setOption({
  animation: false,
  backgroundColor: '#ffffff',
  grid: grids,
  xAxis: xAxes,
  yAxis: yAxes,
  series: series,
  graphic: graphic
});
</script>
</body></html>
